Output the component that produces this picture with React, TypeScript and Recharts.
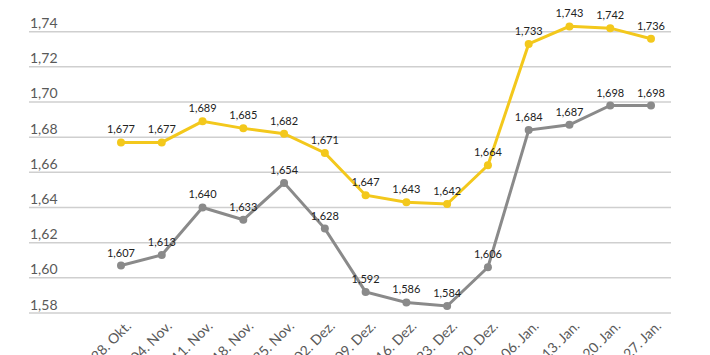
import { LineChart, Line, XAxis, YAxis, CartesianGrid, LabelList } from 'recharts';

const weeks = [
  '28. Okt.', '04. Nov.', '11. Nov.', '18. Nov.', '25. Nov.', '02. Dez.', '09. Dez.',
  '16. Dez.', '23. Dez.', '30. Dez.', '06. Jan.', '13. Jan.', '20. Jan.', '27. Jan.',
];
const yellowValues = [1.677, 1.677, 1.689, 1.685, 1.682, 1.671, 1.647, 1.643, 1.642, 1.664, 1.733, 1.743, 1.742, 1.736];
const grayValues = [1.607, 1.613, 1.64, 1.633, 1.654, 1.628, 1.592, 1.586, 1.584, 1.606, 1.684, 1.687, 1.698, 1.698];
const yTicks = [1.58, 1.6, 1.62, 1.64, 1.66, 1.68, 1.7, 1.72, 1.74];

const YELLOW = '#f3c81c';
const GRAY = '#8a8a8a';
const FONT = 'Lato, "Open Sans", sans-serif';

const data = weeks.map((w, i) => ({ week: w, yellow: yellowValues[i], gray: grayValues[i] }));

const fmt = (v: number) => v.toFixed(3).replace('.', ',');

// labels sit on top of the gridline, left-aligned with the plot edge
function YTick({ y, payload }: any) {
  return (
    <text x={30} y={y - 3.5} fill="#595959" fontSize={14} fontFamily={FONT} textAnchor="start">
      {Number(payload.value).toFixed(2).replace('.', ',')}
    </text>
  );
}

function XTick({ x, y, payload }: any) {
  return (
    <g transform={`translate(${x + 11},${y + 6})`}>
      <text fill="#595959" fontSize={14} fontFamily={FONT} textAnchor="end" transform="rotate(-45)">
        {payload.value}
      </text>
    </g>
  );
}

export default function App() {
  return (
    <div style={{ position: 'absolute', left: 0, top: 0, background: '#fff' }}>
      <LineChart width={710} height={355} data={data} margin={{ top: 0, right: 39, bottom: 0, left: 0 }}>
        <CartesianGrid vertical={false} horizontalValues={yTicks} stroke="#cfcfcf" strokeWidth={1.5} />
        <XAxis
          dataKey="week"
          height={42}
          padding={{ left: 92, right: 20 }}
          axisLine={false}
          tickLine={false}
          interval={0}
          tick={<XTick />}
        />
        <YAxis
          width={29}
          domain={[1.58, 1.758]}
          ticks={yTicks}
          axisLine={false}
          tickLine={false}
          tick={<YTick />}
          allowDataOverflow
        />
        <Line
          dataKey="gray"
          stroke={GRAY}
          strokeWidth={3}
          dot={{ r: 4, fill: GRAY, stroke: GRAY, strokeWidth: 0 }}
          activeDot={false}
          isAnimationActive={false}
        >
          <LabelList dataKey="gray" position="top" offset={9} formatter={fmt} fill="#222" fontSize={11} fontFamily={FONT} />
        </Line>
        <Line
          dataKey="yellow"
          stroke={YELLOW}
          strokeWidth={3}
          dot={{ r: 4, fill: YELLOW, stroke: YELLOW, strokeWidth: 0 }}
          activeDot={false}
          isAnimationActive={false}
        >
          <LabelList dataKey="yellow" position="top" offset={9} formatter={fmt} fill="#222" fontSize={11} fontFamily={FONT} />
        </Line>
      </LineChart>
    </div>
  );
}
